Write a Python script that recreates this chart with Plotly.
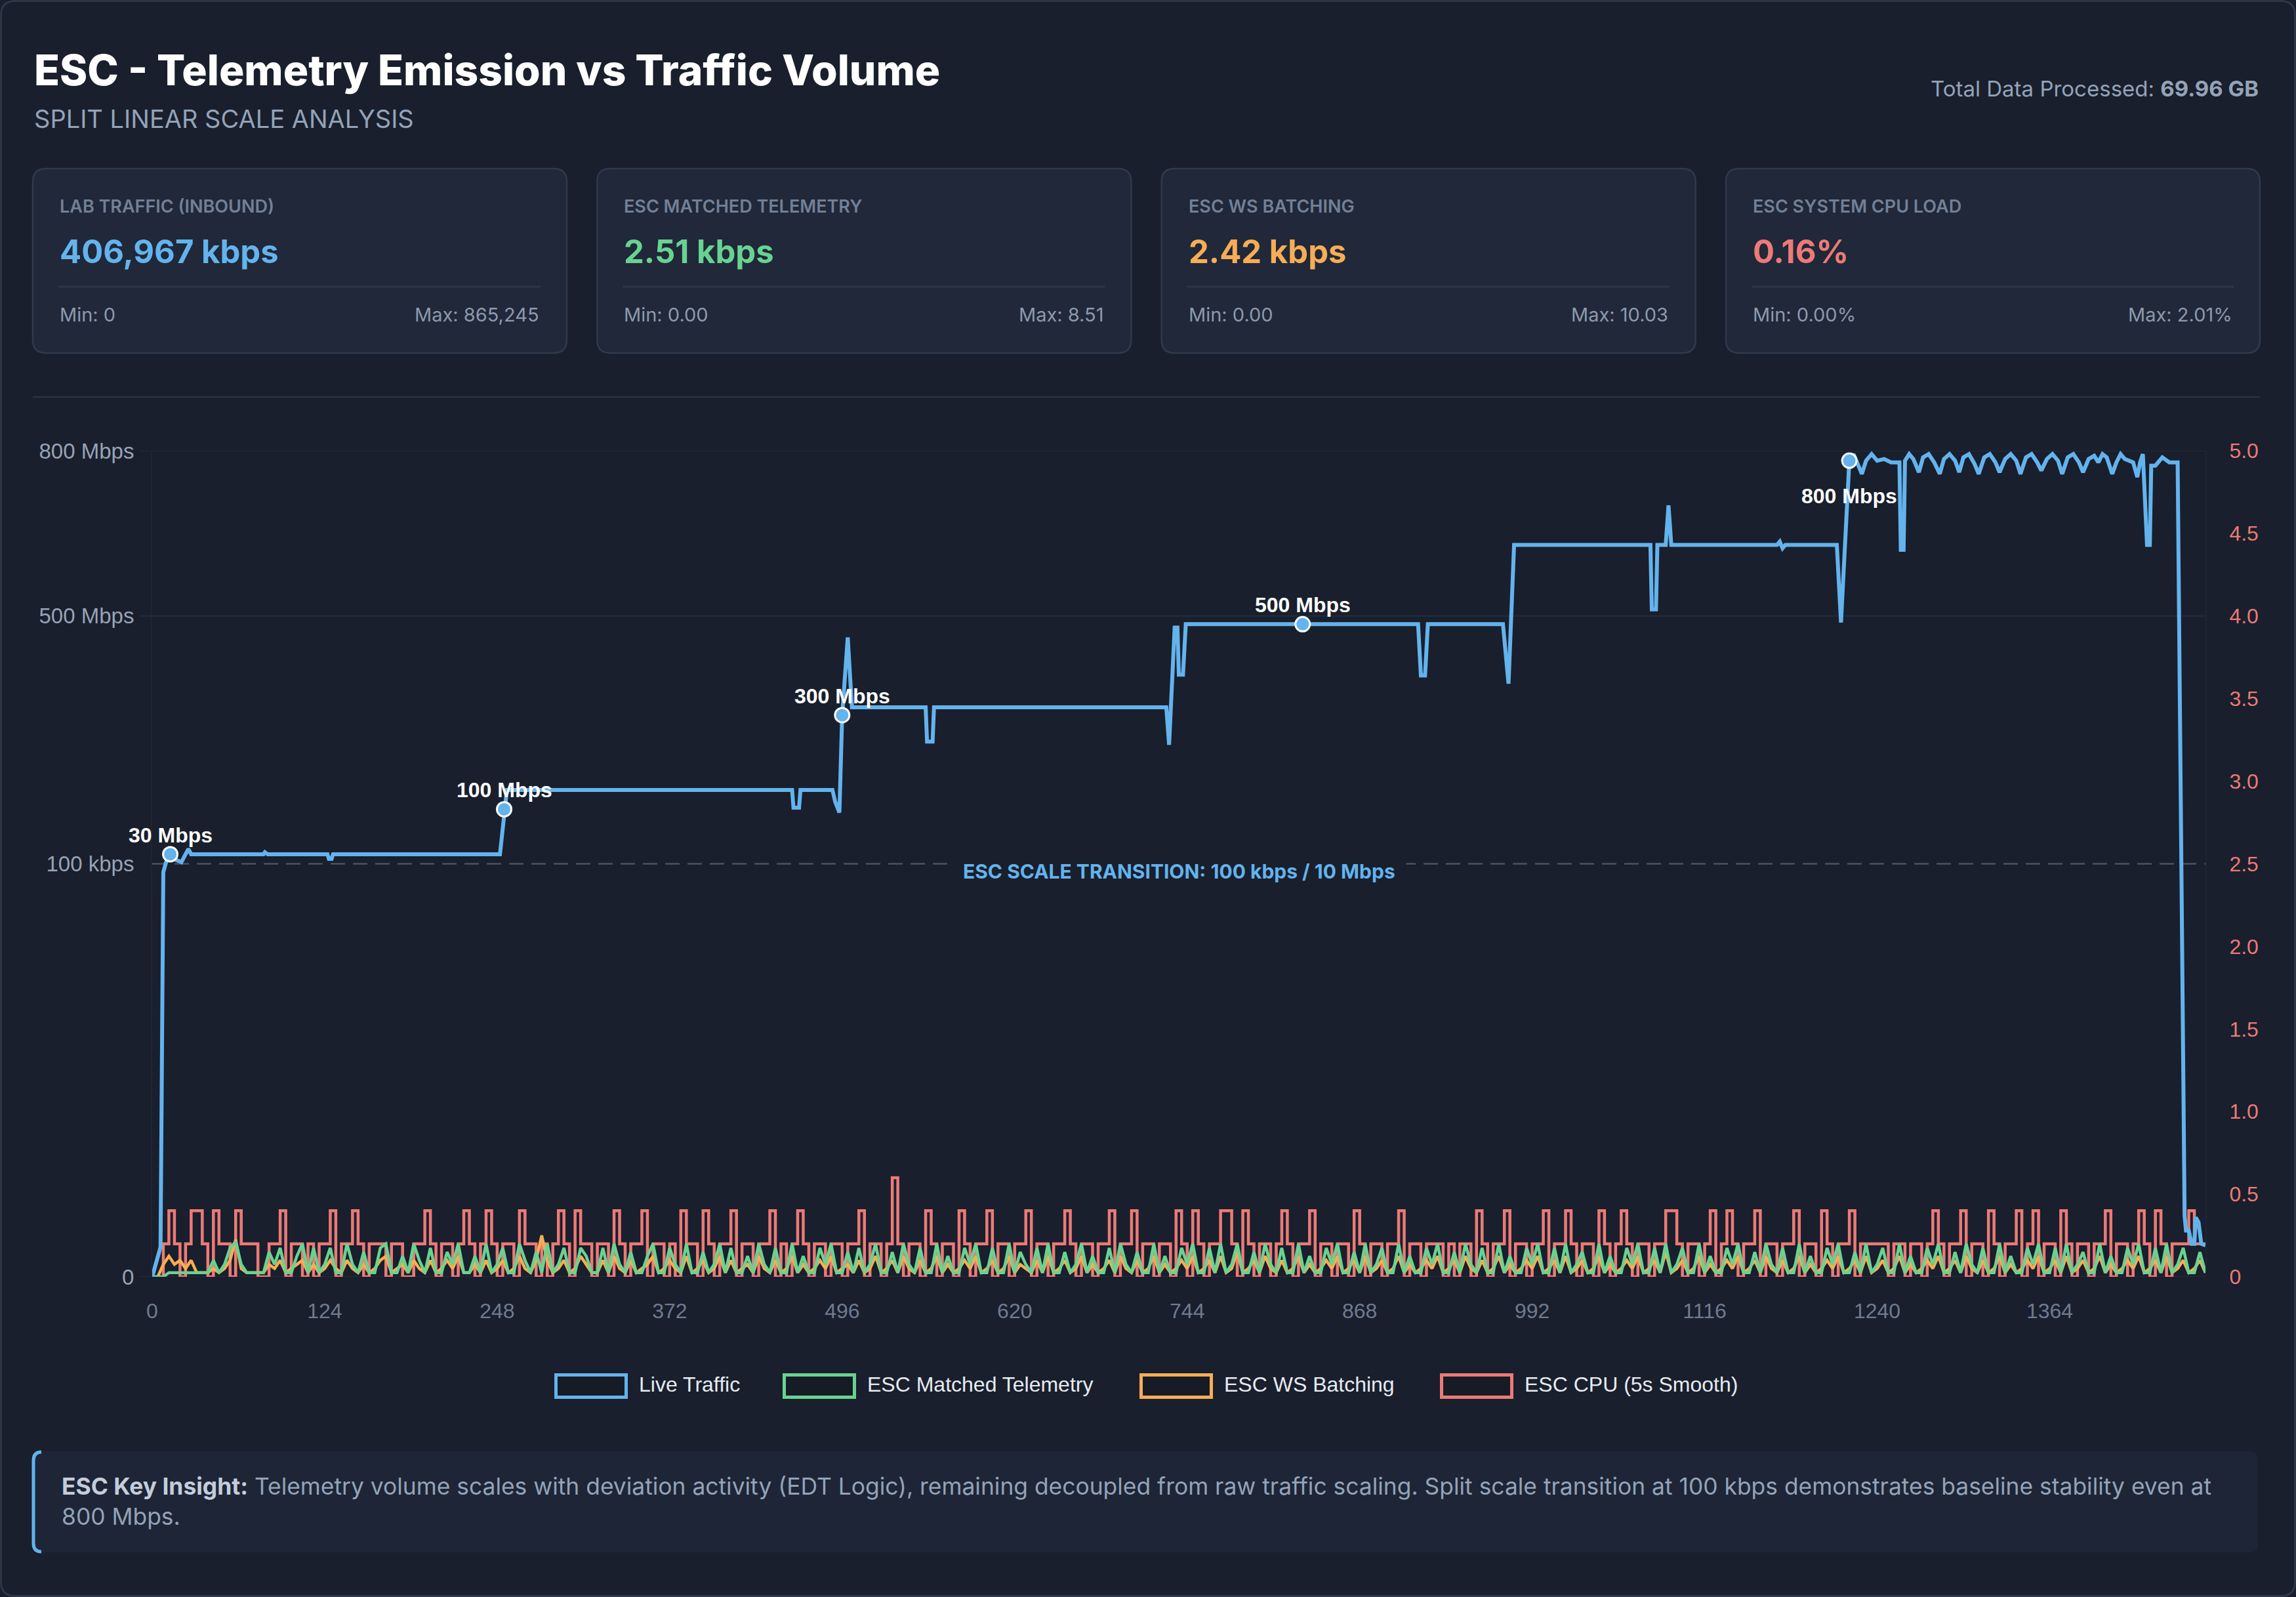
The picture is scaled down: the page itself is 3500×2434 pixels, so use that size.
import plotly.graph_objects as go

# ------------------------------------------------------------------ data
X_MAX = 1476
x_tick_vals = [0, 124, 248, 372, 496, 620, 744, 868, 992, 1116, 1240, 1364]

# Live traffic (kbps) - vertices
traffic_x = [0, 6, 8, 10, 13, 17, 21, 23, 26, 28,
             80, 81, 83, 126, 127, 129, 130, 250, 253, 255,
             460, 461, 465, 466, 489, 491, 494, 496, 500, 503,
             556, 557, 561, 562, 729, 731, 735, 737, 738, 741,
             743, 827, 910, 912, 915, 917, 971, 975, 979, 1077,
             1078, 1081, 1082, 1088, 1090, 1092, 1168, 1170, 1172, 1174,
             1211, 1214, 1220, 1223, 1226, 1229, 1232, 1236, 1240, 1245,
             1250, 1256, 1257, 1259, 1260, 1263, 1266, 1270, 1273, 1277,
             1281, 1285, 1288, 1292, 1296, 1299, 1302, 1306, 1310, 1313,
             1317, 1321, 1325, 1328, 1332, 1336, 1340, 1343, 1347, 1351,
             1355, 1358, 1362, 1366, 1370, 1373, 1377, 1381, 1385, 1388,
             1392, 1396, 1399, 1402, 1405, 1409, 1412, 1415, 1418, 1424,
             1427, 1429, 1431, 1434, 1436, 1437, 1440, 1445, 1450, 1456,
             1461, 1462, 1464, 1466, 1468, 1469, 1471, 1473, 1476]
traffic_kbps = [0, 7.2, 98, 3430, 19430, 8000, 3430, 15000, 30100, 19430,
                19430, 23400, 19430, 19430, 10100, 10100, 19430, 19430, 110000, 149100,
                149100, 113400, 113400, 149100, 149100, 125000, 103400, 300000, 456700, 315700,
                315700, 246700, 246700, 315700, 315700, 240100, 476700, 476700, 381700, 381700,
                483400, 483400, 483400, 380000, 380000, 483400, 483400, 363400, 629000, 629000,
                512000, 512000, 629000, 629000, 701000, 629000, 629000, 635000, 623000, 629000,
                629000, 486700, 782000, 794000, 776000, 758000, 782000, 794000, 782000, 785000,
                779000, 779000, 620000, 620000, 782000, 794000, 785000, 761000, 788000, 794000,
                779000, 758000, 785000, 794000, 782000, 761000, 788000, 794000, 776000, 758000,
                788000, 794000, 779000, 761000, 785000, 794000, 782000, 758000, 788000, 794000,
                779000, 764000, 785000, 794000, 782000, 758000, 788000, 794000, 779000, 761000,
                785000, 791000, 779000, 794000, 788000, 758000, 779000, 794000, 785000, 779000,
                752000, 779000, 794000, 629000, 629000, 773000, 773000, 788000, 779000, 779000,
                14.8, 11.2, 11.2, 8, 8, 14.4, 13.2, 8, 7.6]

# low-level series, one value every 4 samples
sample_step = 4
cpu_smooth_pct = [
    0, 0, .2, .4, .2, 0, .2, .4, .4, .2,
    0, .4, .2, .2, 0, .4, .2, .2, .2, 0,
    0, .2, .2, .4, 0, .2, .2, 0, .2, 0,
    .2, .2, .4, 0, .2, .2, .4, .2, 0, .2,
    .2, .2, 0, .2, .2, 0, 0, .2, .2, .4,
    .2, 0, .2, .2, 0, .2, .4, .2, 0, .2,
    .4, .2, 0, .2, .2, 0, .4, .2, .2, 0,
    .2, 0, .2, .4, .2, 0, .4, .2, .2, 0,
    .2, .2, 0, .4, .2, 0, .2, .2, .4, 0,
    .2, .2, 0, .2, 0, .4, .2, .2, 0, .4,
    .2, 0, .2, .2, .4, 0, .2, .2, 0, .2,
    .2, .4, 0, .2, 0, .2, .4, .2, 0, .2,
    .2, 0, .2, .2, 0, .2, .2, .4, 0, .2,
    .2, 0, .2, .6, .2, 0, .2, .2, 0, .4,
    .2, 0, .2, .2, 0, .4, .2, 0, .2, .2,
    .4, 0, .2, .2, 0, .2, .2, .4, 0, .2,
    .2, 0, .2, .2, .4, .2, 0, .2, .2, 0,
    .2, .2, .4, 0, .2, .2, .4, 0, .2, .2,
    0, .2, .2, 0, .4, .2, 0, .4, .2, 0,
    .2, .2, .4, .4, .2, 0, .4, .2, 0, .2,
    .2, 0, .2, .4, .2, 0, .2, .2, .4, 0,
    .2, .2, 0, .2, .2, 0, .4, .2, 0, .2,
    .2, 0, .2, .2, .4, 0, .2, .2, 0, .2,
    .2, .2, 0, .2, 0, .2, .2, 0, .4, .2,
    0, .2, .2, .4, 0, .2, .2, 0, .2, .2,
    .4, 0, .2, .2, .4, .2, 0, .2, .2, 0,
    .4, .2, 0, .2, .4, .2, 0, .2, .2, 0,
    .2, .2, .4, .4, .2, 0, .2, .2, 0, .2,
    .4, 0, .2, .4, .2, 0, .2, .2, .4, 0,
    .2, .2, 0, .2, .2, .4, 0, .2, .2, 0,
    .4, .2, 0, .2, .2, .4, 0, .2, .2, .2,
    .2, .2, 0, .2, .2, 0, .2, .2, 0, .2,
    .4, .2, 0, .2, .2, .4, 0, .2, .2, 0,
    .4, .2, 0, .2, .2, .4, 0, .2, .4, 0,
    .2, .2, 0, .4, .2, 0, .2, .2, 0, .2,
    .2, .4, 0, .2, .2, 0, .2, .4, .2, 0,
    .4, .2, 0, .2, .2, .2, .4, .2, .2, .2]

matched_telemetry_kbps = [
    0, 0, 0, 1, 1, 1, 1, 1, 1, 1,
    1, 4, 1, 3, 7, 8.5, 3, 1, 1, 1,
    1, 6, 3, 7, 1, 1, 5, 8, 1, 7,
    1, 3, 7, 1, 1, 8, 3, 1, 6, 1,
    1, 7, 8, 1, 1, 5, 1, 8, 4, 1,
    7, 1, 1, 6, 3, 8, 1, 1, 5, 1,
    8, 1, 3, 7, 1, 1, 8, 4, 1, 6,
    1, 8, 1, 3, 7, 1, 1, 7, 5, 1,
    1, 7, 1, 8, 3, 1, 6, 1, 1, 5,
    8, 1, 1, 7, 3, 1, 8, 1, 1, 6,
    1, 3, 8, 1, 7, 1, 1, 5, 1, 8,
    3, 1, 7, 1, 1, 8, 1, 5, 1, 1,
    7, 3, 8, 1, 1, 6, 1, 7, 1, 3,
    8, 1, 1, 6, 1, 8, 3, 1, 7, 1,
    1, 8, 1, 5, 1, 1, 7, 3, 8, 1,
    1, 7, 1, 1, 8, 1, 6, 3, 1, 7,
    1, 8, 1, 1, 6, 1, 3, 8, 1, 5,
    1, 1, 7, 1, 8, 3, 1, 6, 1, 1,
    8, 1, 5, 1, 1, 7, 3, 8, 1, 1,
    7, 1, 8, 1, 3, 8, 1, 1, 6, 1,
    8, 3, 1, 7, 1, 1, 8, 1, 5, 1,
    1, 7, 3, 8, 1, 1, 6, 1, 8, 1,
    3, 7, 1, 1, 8, 1, 5, 1, 1, 7,
    3, 8, 1, 1, 6, 1, 8, 3, 1, 7,
    1, 1, 8, 1, 5, 1, 1, 7, 3, 8,
    1, 1, 7, 1, 8, 1, 3, 6, 1, 1,
    8, 1, 5, 1, 1, 7, 3, 8, 1, 1,
    7, 1, 8, 1, 3, 7, 1, 1, 8, 1,
    5, 1, 1, 7, 3, 8, 1, 1, 6, 1,
    8, 3, 1, 7, 1, 1, 8, 1, 5, 1,
    1, 7, 3, 8, 1, 1, 6, 1, 8, 1,
    3, 7, 1, 1, 8, 1, 5, 1, 1, 7,
    3, 8, 1, 1, 6, 1, 8, 3, 1, 7,
    1, 1, 8, 1, 5, 1, 1, 7, 3, 8,
    1, 1, 7, 1, 8, 1, 3, 6, 1, 1,
    8, 1, 5, 1, 1, 7, 3, 8, 1, 1,
    7, 1, 8, 1, 3, 7, 1, 1, 6, 1]

ws_batching_kbps = [
    0, 0, 3, 5, 3, 4, 2, 4, 1, 1,
    1, 2, 1, 2, 4, 9, 2, 1, 1, 1,
    1, 3, 2, 4, 1, 2, 3, 4, 1, 3,
    1, 2, 4, 2, 1, 4, 2, 1, 3, 1,
    2, 4, 5, 1, 2, 3, 1, 4, 2, 1,
    4, 1, 2, 4, 2, 5, 1, 1, 3, 1,
    4, 1, 2, 4, 1, 2, 5, 2, 1, 4,
    10, 4, 1, 2, 4, 1, 2, 5, 3, 1,
    1, 4, 1, 5, 2, 1, 4, 1, 2, 3,
    5, 1, 2, 4, 2, 1, 5, 1, 2, 4,
    1, 2, 5, 1, 4, 1, 2, 3, 1, 5,
    2, 1, 4, 1, 2, 5, 1, 3, 1, 2,
    4, 2, 5, 1, 2, 3, 1, 4, 1, 2,
    5, 1, 2, 4, 1, 5, 2, 1, 4, 1,
    2, 5, 1, 3, 1, 2, 4, 2, 5, 1,
    2, 4, 1, 2, 5, 1, 3, 2, 1, 4,
    1, 5, 1, 2, 4, 1, 2, 5, 1, 3,
    1, 2, 4, 1, 5, 2, 1, 4, 1, 2,
    5, 1, 3, 1, 2, 4, 2, 5, 1, 2,
    4, 1, 5, 1, 2, 6, 1, 2, 4, 1,
    5, 2, 1, 4, 1, 2, 5, 1, 3, 1,
    2, 4, 2, 5, 1, 2, 4, 1, 5, 1,
    2, 4, 1, 2, 5, 1, 3, 1, 2, 4,
    2, 5, 1, 2, 4, 1, 5, 2, 1, 4,
    1, 2, 5, 1, 3, 1, 2, 4, 2, 5,
    1, 2, 4, 1, 5, 1, 2, 4, 1, 2,
    5, 1, 3, 1, 2, 4, 2, 5, 1, 2,
    4, 1, 6, 1, 2, 4, 1, 2, 5, 1,
    3, 1, 2, 4, 2, 5, 1, 2, 4, 1,
    5, 2, 1, 4, 1, 2, 5, 1, 3, 1,
    2, 4, 2, 5, 1, 2, 4, 1, 5, 1,
    2, 4, 1, 2, 5, 1, 3, 1, 2, 4,
    2, 5, 1, 2, 4, 1, 5, 2, 1, 4,
    1, 2, 5, 1, 3, 1, 2, 4, 2, 5,
    1, 2, 4, 1, 5, 1, 2, 4, 1, 2,
    5, 1, 3, 1, 2, 4, 2, 5, 1, 2,
    4, 1, 5, 1, 2, 4, 1, 2, 4, 1]

milestone_x = [13, 253, 496, 827, 1220]
milestone_labels = ['30 Mbps', '100 Mbps', '300 Mbps', '500 Mbps', '800 Mbps']
milestone_below = [False, False, False, False, True]

left_tick_kbps = [0, 100, 500000, 800000]
left_tick_text = ['0', '100 kbps', '500 Mbps', '800 Mbps']
right_tick_vals = [0, 0.5, 1.0, 1.5, 2.0, 2.5, 3.0, 3.5, 4.0, 4.5, 5.0]
right_tick_text = ['0', '0.5', '1.0', '1.5', '2.0', '2.5', '3.0', '3.5', '4.0', '4.5', '5.0']

series_names = ['Live Traffic', 'ESC Matched Telemetry', 'ESC WS Batching', 'ESC CPU (5s Smooth)']

kpi_titles = ['LAB TRAFFIC (INBOUND)', 'ESC MATCHED TELEMETRY', 'ESC WS BATCHING', 'ESC SYSTEM CPU LOAD']
kpi_values = ['406,967 kbps', '2.51 kbps', '2.42 kbps', '0.16%']
kpi_min = ['Min: 0', 'Min: 0.00', 'Min: 0.00', 'Min: 0.00%']
kpi_max = ['Max: 865,245', 'Max: 8.51', 'Max: 10.03', 'Max: 2.01%']
total_processed = '69.96 GB'

# ------------------------------------------------------------------ styles
BG = '#191f2c'
CARD_BG = '#202839'
CARD_BORDER = '#2f3a4c'
GRID = '#242c3a'
BLUE, GREEN, ORANGE, RED = '#63b3ed', '#68d391', '#f6ad55', '#ec7a76'
SERIES_COLORS = [BLUE, GREEN, ORANGE, RED]
INTER = 'Inter'
ARIAL = 'Liberation Sans'

W, H = 3500, 2434
PL, PR, PT, PB = 232, 3362, 687, 1946


def px(x):
    return (x - PL) / (PR - PL)


def py(y):
    return (PB - y) / (PB - PT)


SPLIT_KBPS, MID_KBPS, TOP_KBPS = 100, 500000, 800000


def split_scale(v):
    """Split linear scale: 0-100 kbps on the lower half, 100 kbps-800 Mbps above."""
    if v <= SPLIT_KBPS:
        return 2.5 * v / SPLIT_KBPS
    if v <= MID_KBPS:
        return 2.5 + 1.5 * (v - SPLIT_KBPS) / (MID_KBPS - SPLIT_KBPS)
    return 4.0 + (v - MID_KBPS) / (TOP_KBPS - MID_KBPS)


def rrect(x0, y0, x1, y1, r):
    return (f"M {px(x0 + r)},{py(y0)} L {px(x1 - r)},{py(y0)} Q {px(x1)},{py(y0)} {px(x1)},{py(y0 + r)} "
            f"L {px(x1)},{py(y1 - r)} Q {px(x1)},{py(y1)} {px(x1 - r)},{py(y1)} "
            f"L {px(x0 + r)},{py(y1)} Q {px(x0)},{py(y1)} {px(x0)},{py(y1 - r)} "
            f"L {px(x0)},{py(y0 + r)} Q {px(x0)},{py(y0)} {px(x0 + r)},{py(y0)} Z")


def ann(text, x, y, size, color, xanchor='left', weight=400, family=INTER, **kw):
    return dict(text=text, x=px(x), y=py(y), xref='paper', yref='paper', xanchor=xanchor,
                yanchor='middle', showarrow=False,
                font=dict(family=family, size=size, color=color, weight=weight), **kw)


assert len(traffic_x) == len(traffic_kbps)
n_low = len(cpu_smooth_pct)
assert n_low == len(matched_telemetry_kbps) == len(ws_batching_kbps)
low_x = [i * sample_step for i in range(n_low)]

fig = go.Figure()
# bottom -> top: CPU, WS batching, telemetry, traffic
fig.add_trace(go.Scatter(x=low_x, y=cpu_smooth_pct, mode='lines', name=series_names[3],
                         line=dict(color=RED, width=4.5, shape='hv'), hoverinfo='skip'))
fig.add_trace(go.Scatter(x=low_x, y=[split_scale(v) for v in ws_batching_kbps], mode='lines',
                         name=series_names[2], line=dict(color=ORANGE, width=4.5), hoverinfo='skip'))
fig.add_trace(go.Scatter(x=low_x, y=[split_scale(v) for v in matched_telemetry_kbps], mode='lines',
                         name=series_names[1], line=dict(color=GREEN, width=4.5), hoverinfo='skip'))
fig.add_trace(go.Scatter(x=traffic_x, y=[split_scale(v) for v in traffic_kbps], mode='lines',
                         name=series_names[0], line=dict(color=BLUE, width=6), hoverinfo='skip'))
# CPU axis (right) anchor trace, invisible
fig.add_trace(go.Scatter(x=low_x, y=cpu_smooth_pct, yaxis='y2', mode='lines',
                         line=dict(color='rgba(0,0,0,0)', width=0), hoverinfo='skip', showlegend=False))

lookup = dict(zip(traffic_x, traffic_kbps))
ms_y = [split_scale(lookup[x]) for x in milestone_x]
fig.add_trace(go.Scatter(x=milestone_x, y=ms_y, mode='markers',
                         marker=dict(size=22, color=BLUE, line=dict(color='white', width=3)),
                         hoverinfo='skip'))

annotations = []
for x, y, lab, below in zip(milestone_x, ms_y, milestone_labels, milestone_below):
    annotations.append(dict(text=f'<b>{lab}</b>', x=x, y=y, xref='x', yref='y', showarrow=False,
                            xanchor='center', yanchor='middle', yshift=-54 if below else 29,
                            font=dict(family=ARIAL, size=32, color='white')))

shapes = []
# page border
shapes.append(dict(type='path', path=rrect(1.5, 1.5, W - 1.5, H - 1.5, 22), xref='paper', yref='paper',
                   line=dict(color='#2d3748', width=3), fillcolor='rgba(0,0,0,0)', layer='below'))
# grid lines at labelled left ticks (except the split line)
for v in left_tick_kbps:
    if v == SPLIT_KBPS:
        continue
    shapes.append(dict(type='line', xref='paper', yref='y', x0=px(212), x1=1, y0=split_scale(v),
                       y1=split_scale(v), line=dict(color=GRID, width=2), layer='below'))
# split transition line
shapes.append(dict(type='line', xref='paper', yref='y', x0=0, x1=1, y0=split_scale(SPLIT_KBPS),
                   y1=split_scale(SPLIT_KBPS), line=dict(color='#4a5263', width=2.5, dash='22px,12px'),
                   layer='below'))
annotations.append(dict(text='<b>ESC SCALE TRANSITION: 100 kbps / 10 Mbps</b>', x=0.5, y=py(1328),
                        xref='paper', yref='paper', showarrow=False, xanchor='center', yanchor='middle',
                        font=dict(family=INTER, size=30, color=BLUE), bgcolor=BG, borderpad=16))

# header
annotations.append(ann('ESC - Telemetry Emission vs Traffic Volume', 50, 106, 64, '#ffffff', weight=800))
annotations.append(ann('SPLIT LINEAR SCALE ANALYSIS', 50, 181, 38, '#94a3b8'))
annotations.append(ann(f'Total Data Processed: <b>{total_processed}</b>', 3445, 135, 33, '#94a3b8',
                       xanchor='right'))

# KPI cards
card_w, card_gap, card_top, card_bot = 814, 46.33, 257, 538
for i in range(4):
    x0 = 50 + i * (card_w + card_gap)
    x1 = x0 + card_w
    shapes.append(dict(type='path', path=rrect(x0, card_top, x1, card_bot, 20), xref='paper', yref='paper',
                       line=dict(color=CARD_BORDER, width=2.5), fillcolor=CARD_BG, layer='below'))
    shapes.append(dict(type='line', xref='paper', yref='paper', x0=px(x0 + 39), x1=px(x1 - 40),
                       y0=py(437), y1=py(437), line=dict(color='#2d3747', width=3), layer='below'))
    annotations.append(ann(kpi_titles[i], x0 + 39, 315, 27, '#728096', weight=600))
    annotations.append(ann(kpi_values[i], x0 + 39, 383, 49, SERIES_COLORS[i], weight=700))
    annotations.append(ann(kpi_min[i], x0 + 39, 479, 29, '#8d99ad'))
    annotations.append(ann(kpi_max[i], x1 - 40, 479, 29, '#8d99ad', xanchor='right'))

# header separator
shapes.append(dict(type='line', xref='paper', yref='paper', x0=px(50), x1=px(3445), y0=py(605), y1=py(605),
                   line=dict(color='#2a3343', width=2.5), layer='below'))

# legend (boxes + labels)
legend_box_x = [845, 1193, 1737, 2195]
for name, col, bx in zip(series_names, SERIES_COLORS, legend_box_x):
    shapes.append(dict(type='rect', xref='paper', yref='paper', x0=px(bx + 2.5), x1=px(bx + 109.5),
                       y0=py(2095.5), y1=py(2129.5), line=dict(color=col, width=5), fillcolor='#161b25',
                       layer='below'))
    annotations.append(ann(name, bx + 127, 2110, 32, '#e6ebf2', family=ARIAL))

# insight box
shapes.append(dict(type='path', path=rrect(49, 2212, 3442, 2366, 12), xref='paper', yref='paper',
                   line=dict(width=0), fillcolor='#1d2536', layer='below'))
shapes.append(dict(type='path', xref='paper', yref='paper', layer='below', fillcolor='rgba(0,0,0,0)',
                   path=(f"M {px(63)},{py(2213)} Q {px(51)},{py(2213)} {px(51)},{py(2226)} "
                         f"L {px(51)},{py(2352)} Q {px(51)},{py(2365)} {px(63)},{py(2365)}"),
                   line=dict(color=BLUE, width=5)))
insight = ('<b><span style="color:#c3cddb">ESC Key Insight:</span></b> Telemetry volume scales with deviation '
           'activity (EDT Logic), remaining decoupled from raw traffic scaling. Split scale transition at '
           '100 kbps demonstrates baseline stability even at<br>800 Mbps.')
annotations.append(ann(insight, 92, 2288.5, 35.4, '#94a3b8', align='left'))

fig.update_layout(
    template='none',
    width=W, height=H, autosize=False,
    margin=dict(l=PL, r=W - PR, t=PT, b=H - PB, pad=0),
    paper_bgcolor=BG, plot_bgcolor='rgba(0,0,0,0)',
    showlegend=False,
    xaxis=dict(range=[0, X_MAX], tickvals=x_tick_vals, showgrid=False, zeroline=False, showline=False,
               ticks='', ticklabelstandoff=30, automargin=False,
               tickfont=dict(family=ARIAL, size=32, color='#6f7b90')),
    yaxis=dict(range=[0, 5], tickvals=[split_scale(v) for v in left_tick_kbps], ticktext=left_tick_text,
               showgrid=False, zeroline=False, showline=True, linecolor='#1f2633', linewidth=2,
               ticks='', ticklabelstandoff=19, automargin=False,
               tickfont=dict(family=ARIAL, size=33, color='#97a3b6')),
    yaxis2=dict(range=[0, 5], overlaying='y', side='right', tickvals=right_tick_vals, ticktext=right_tick_text,
                showgrid=False, zeroline=False, showline=True, linecolor='#1f2633', linewidth=2,
                ticks='', ticklabelstandoff=28, automargin=False,
                tickfont=dict(family=ARIAL, size=32, color=RED)),
    shapes=shapes,
    annotations=annotations,
)

fig.write_html("out.html", post_script="document.body.style.margin='0';document.body.style.background='#191f2c';")
